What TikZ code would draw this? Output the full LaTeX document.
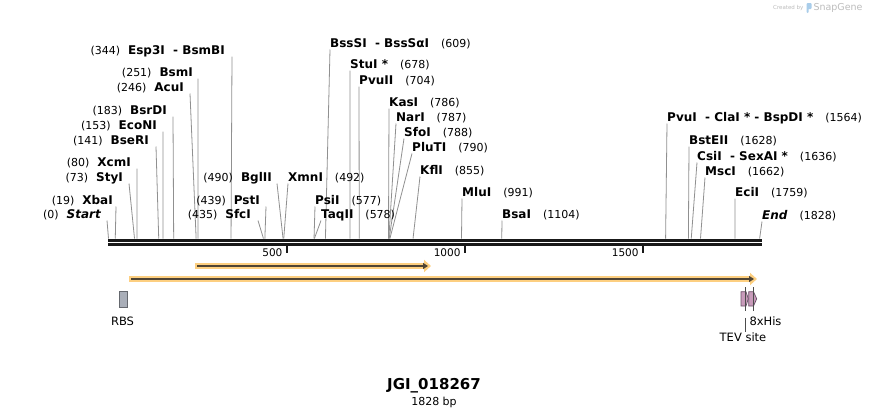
\documentclass[tikz,border=0pt]{standalone}
\usepackage{fontspec}
\setmainfont{DejaVu Sans}
\usepackage[svgnames]{xcolor}
\usepackage{tikz}
\usetikzlibrary{positioning, arrows.meta, calc}

\definecolor{siteline}{HTML}{909090}
\definecolor{hilite}{HTML}{FDCF80}
\definecolor{featcore}{HTML}{4F4434}
\definecolor{rbsfill}{HTML}{A9AEB8}
\definecolor{tevfill}{HTML}{C89BBA}
\definecolor{tevedge}{HTML}{6A5068}
\definecolor{wmgray}{HTML}{BDBDBD}
\definecolor{wmblue}{HTML}{A9CDEA}

\def\bpx{0.3562}
\def\xzero{108.5}
\def\rulertop{238.5}

\tikzset{
    numfont/.style={font=\fontsize{11}{13}\selectfont, inner sep=0},
    featlabel/.style={font=\fontsize{11.5}{13}\selectfont, inner sep=0},
    rulerlabel/.style={font=\fontsize{10.5}{12}\selectfont, inner sep=0},
}
\newcommand{\namefont}{\fontsize{12}{14}\selectfont\bfseries}

\begin{document}
\begin{tikzpicture}[x=1pt, y=-1pt]
    \useasboundingbox[fill=white] (0,0) rectangle (870,418);

    % sites left of their line: name/number/label x/label y/line x/position/style
    \foreach \name/\num/\lx/\ly/\tx/\pos/\sty [count=\i] in {
        Esp3I \ - BsmBI/344/225/50/232/344/\relax,
        BsmI/251/193/72/198/251/\relax,
        AcuI/246/184/87/190/246/\relax,
        BsrDI/183/167/110/173/183/\relax,
        EcoNI/153/157/125/163/153/\relax,
        BseRI/141/149/140/156/141/\relax,
        XcmI/80/131/162/137/80/\relax,
        StyI/73/123/177/129/73/\relax,
        XbaI/19/113/200/116/19/\relax,
        Start/0/101/214/107/0/\itshape,
        BglII/490/272/177/277/490/\relax,
        PstI/439/260/200/266/439/\relax,
        SfcI/435/251/214/258/435/\relax}{

        \node[numfont, anchor=base east] (llab\i) at (\lx,\ly+4.5)
            {(\num)\hspace{8pt}{\namefont\sty\name}};
        \coordinate (ltop\i) at (\tx,\ly+6.5);
        \coordinate (lsite\i) at (\xzero+\pos*\bpx,\rulertop);
        \draw[siteline, line width=0.8pt] (ltop\i) -- (lsite\i);
    }

    % sites right of their line: name/number/line x/label y/position/style
    \foreach \name/\num/\tx/\ly/\pos/\sty [count=\i] in {
        BssSI \ - BssSαI/609/330/43/609/\relax,
        StuI */678/350/64/678/\relax,
        PvuII/704/359/80/704/\relax,
        KasI/786/389/102/786/\relax,
        NarI/787/396/117/787/\relax,
        SfoI/788/404/132/788/\relax,
        PluTI/790/412/147/790/\relax,
        XmnI/492/288/177/492/\relax,
        KflI/855/420/170/855/\relax,
        MluI/991/462/192/991/\relax,
        PsiI/577/315/200/577/\relax,
        TaqII/578/321/214/578/\relax,
        BsaI/1104/502/214/1104/\relax,
        PvuI \ - ClaI * - BspDI */1564/667/117/1564/\relax,
        BstEII/1628/689/140/1628/\relax,
        CsiI \ - SexAI */1636/697/156/1636/\relax,
        MscI/1662/705/171/1662/\relax,
        EciI/1759/735/192/1759/\relax,
        End/1828/762/215/1828/\itshape}{

        \node[numfont, anchor=base west] (rlab\i) at (\tx,\ly+4.5)
            {{\namefont\sty\name}\hspace{12pt}(\num)};
        \coordinate (rtop\i) at (\tx,\ly+6.5);
        \coordinate (rsite\i) at (\xzero+\pos*\bpx,\rulertop);
        \draw[siteline, line width=0.8pt] (rtop\i) -- (rsite\i);
    }

    % ruler
    \draw[black!90, line width=2.6pt] (108,240.2) -- (762,240.2);
    \draw[black!90, line width=2.6pt] (108,244.4) -- (762,244.4);
    \foreach \t in {500,1000,1500}
    {
        \draw[black!90, line width=1.8pt] (\xzero+\t*\bpx,245) -- (\xzero+\t*\bpx,252.7);
        \node[rulerlabel, anchor=base east] (tick\t) at (\xzero+\t*\bpx-4,256) {\t};
    }

    % feature arrows
    \coordinate (f1a) at (195,266);
    \coordinate (f1b) at (431,266);
    \coordinate (f2a) at (129,279);
    \coordinate (f2b) at (757,279);
    \foreach \a/\b in {f1a/f1b, f2a/f2b}
    {
        \draw[hilite, line width=6pt, -{Triangle[length=7pt, width=12pt]}] (\a) -- (\b);
        \draw[featcore, line width=2pt, -{Triangle[length=5pt, width=6pt]}]
            ($(\a)+(2,0)$) -- ($(\b)+(-3,0)$);
    }

    % RBS
    \draw[rbsfill!60!black, fill=rbsfill, line width=0.8pt] (119.3,291) rectangle (127.7,307.3);
    \node[featlabel] (rbs) at (122.5,321) {RBS};

    % TEV site and 8xHis
    \draw[tevedge, fill=tevfill, line width=0.7pt]
        (741,291.7) -- (746,291.7) -- (748.3,298.8) -- (746,306) -- (741,306) -- cycle;
    \draw[tevedge, fill=tevfill, line width=0.7pt]
        (748.7,291.7) -- (753.5,291.7) -- (756.7,298.8) -- (753.5,306) -- (748.7,306) -- cycle;
    \draw[black!70, line width=0.6pt] (745.7,287) -- (745.7,311);
    \draw[black!70, line width=0.6pt] (753.3,287) -- (753.3,311);
    \node[featlabel, anchor=west] (his) at (749.3,321) {8xHis};
    \node[featlabel] (tev) at (743,337) {TEV site};
    \coordinate (tevtop) at (745.7,317.5);
    \draw[black!70, line width=0.6pt] (tevtop) -- (tevtop |- tev.north);

    % title
    \node[font=\fontsize{15}{17}\selectfont\bfseries, inner sep=0] (title) at (434,386) {JGI\_018267};
    \node[font=\fontsize{11}{13}\selectfont, inner sep=0] (size) at (434,402) {1828 bp};

    % watermark
    \node[font=\fontsize{5.5}{6}\selectfont, text=wmgray, anchor=west, inner sep=0] (wm) at (773,7.5) {Created by};
    \fill[wmblue, rounded corners=1pt] (806.7,3) rectangle (811.7,9) (806.7,3) rectangle (808.7,13);
    \node[font=\fontsize{9.5}{11}\selectfont, text=wmgray, anchor=west, inner sep=0] (sg) at (813.3,7.5) {SnapGene};
\end{tikzpicture}
\end{document}
